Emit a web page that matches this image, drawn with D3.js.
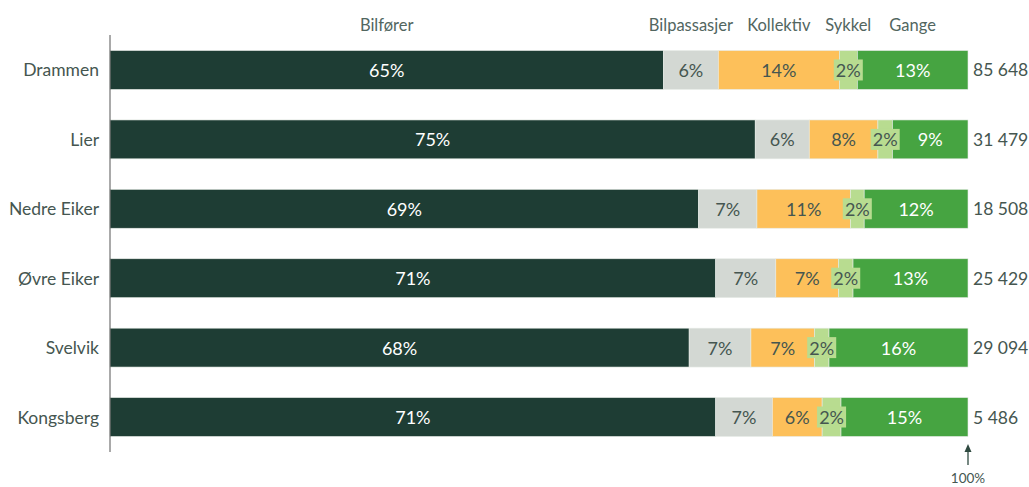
<!DOCTYPE html>
<html>
<head>
<meta charset="utf-8">
<script src="https://cdn.jsdelivr.net/npm/d3@7"></script>
<style>
  body { margin: 0; background: #fff; }
  svg { display: block; font-family: Lato, "Open Sans", sans-serif; }
</style>
</head>
<body>
<div id="chart"></div>
<script>
// data
var kommuner = ["Drammen", "Lier", "Nedre Eiker", "Øvre Eiker", "Svelvik", "Kongsberg"];
var modes = ["Bilfører", "Bilpassasjer", "Kollektiv", "Sykkel", "Gange"];
var bilforer     = [64.5, 75.2, 68.6, 70.6, 67.5, 70.6];
var bilpassasjer = [6.4, 6.3, 6.8, 7.0, 7.2, 6.6];
var kollektiv    = [14.1, 8.0, 10.9, 7.3, 7.4, 5.8];
var sykkel       = [2.1, 1.7, 1.6, 1.7, 1.7, 2.2];
var gange        = [12.9, 8.8, 12.1, 13.4, 16.2, 14.8];
var reiser = ["85 648", "31 479", "18 508", "25 429", "29 094", "5 486"];

var colors = ["#1e3d34", "#d3d8d3", "#fdc05a", "#b8dc90", "#46a441"];
var textColors = ["#ffffff", "#455650", "#455650", "#455650", "#ffffff"];

var W = 1029, H = 487;
var svg = d3.select("#chart").append("svg").attr("width", W).attr("height", H);

var rows = kommuner.map(function(k, i){
	return {name: k, Bilfører: bilforer[i], Bilpassasjer: bilpassasjer[i],
		Kollektiv: kollektiv[i], Sykkel: sykkel[i], Gange: gange[i], total: reiser[i]};
});

var x = d3.scaleLinear().domain([0, 100]).range([110, 968]);
var y = d3.scaleBand().domain(kommuner).range([35, 452]).paddingInner(0.44).paddingOuter(0.224);

var stack = d3.stack().keys(modes)(rows);

var layers = svg.selectAll("g.layer").data(stack).enter().append("g")
	.attr("class", "layer")
	.attr("fill", function(d, i){ return colors[i]; });

layers.selectAll("rect").data(function(d){ return d; }).enter().append("rect")
	.attr("x", function(d){ return x(d[0]); })
	.attr("y", function(d){ return y(d.data.name); })
	.attr("width", function(d){ return x(d[1]) - x(d[0]); })
	.attr("height", y.bandwidth())
	.attr("stroke", "#e6ebe6")
	.attr("stroke-width", 0.6);

// value labels
stack.forEach(function(layer, li){
	var g = svg.append("g").attr("class", "labels");
	layer.forEach(function(d){
		var cx = (x(d[0]) + x(d[1])) / 2, cy = y(d.data.name) + y.bandwidth() / 2;
		var txt = Math.round(d[1] - d[0]) + "%";
		if (modes[li] == "Sykkel"){
			g.append("rect")
				.attr("x", cx - 14.5).attr("y", cy - 10.5)
				.attr("width", 29).attr("height", 21)
				.attr("fill", colors[li]);
		}
		g.append("text")
			.attr("x", cx).attr("y", cy)
			.attr("text-anchor", "middle")
			.attr("dominant-baseline", "central")
			.attr("font-size", 18)
			.attr("fill", textColors[li])
			.text(txt);
	});
});

// header labels over the first row
stack.forEach(function(layer, li){
	var d = layer[0];
	svg.append("text")
		.attr("x", (x(d[0]) + x(d[1])) / 2)
		.attr("y", 31)
		.attr("text-anchor", "middle")
		.attr("font-size", 16.5)
		.attr("fill", "#52665f")
		.text(modes[li]);
});

// category labels
svg.selectAll("text.cat").data(kommuner).enter().append("text")
	.attr("class", "cat")
	.attr("x", 99)
	.attr("y", function(d){ return y(d) + y.bandwidth() / 2; })
	.attr("text-anchor", "end")
	.attr("dominant-baseline", "central")
	.attr("font-size", 17.5)
	.attr("fill", "#455650")
	.text(function(d){ return d; });

// totals
svg.selectAll("text.tot").data(rows).enter().append("text")
	.attr("class", "tot")
	.attr("x", 973)
	.attr("y", function(d){ return y(d.name) + y.bandwidth() / 2; })
	.attr("dominant-baseline", "central")
	.attr("font-size", 17.5)
	.attr("fill", "#455650")
	.text(function(d){ return d.total; });

// left axis line
svg.append("line")
	.attr("x1", 110).attr("x2", 110)
	.attr("y1", 35).attr("y2", 452)
	.attr("stroke", "#555").attr("stroke-width", 1);

// 100% marker
svg.append("line")
	.attr("x1", x(100)).attr("x2", x(100))
	.attr("y1", 465).attr("y2", 450)
	.attr("stroke", "#2f4a40").attr("stroke-width", 1.3);
svg.append("path")
	.attr("d", "M" + (x(100) - 3.5) + ",452 L" + x(100) + ",444 L" + (x(100) + 3.5) + ",452 Z")
	.attr("fill", "#2f4a40");
svg.append("text")
	.attr("x", x(100)).attr("y", 483)
	.attr("text-anchor", "middle")
	.attr("font-size", 13.5)
	.attr("fill", "#455650")
	.text("100%");
</script>
</body>
</html>
